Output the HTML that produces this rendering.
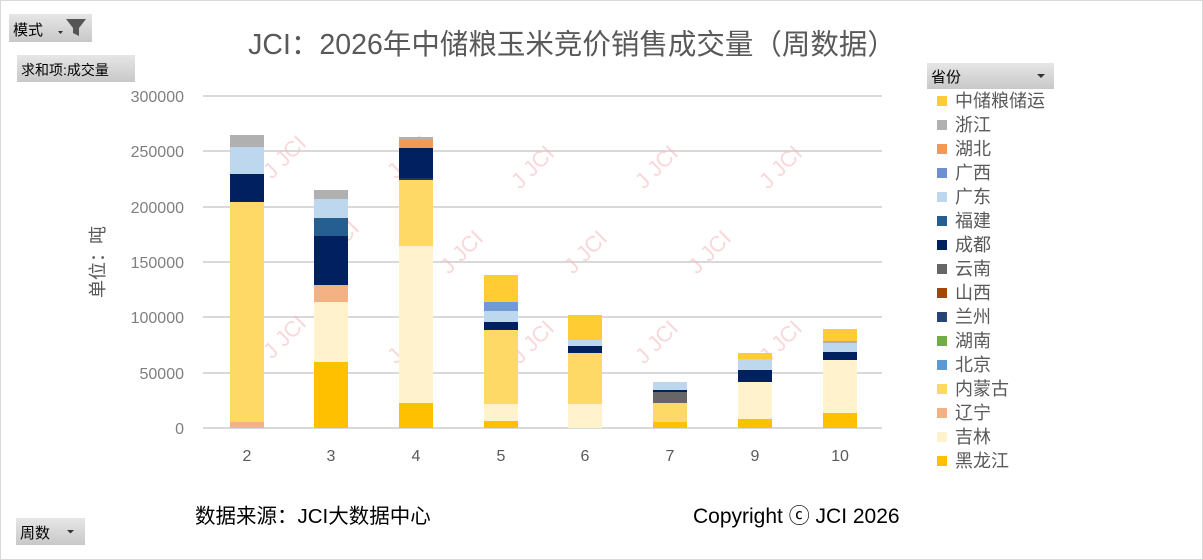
<!DOCTYPE html>
<html><head><meta charset="utf-8"><style>
html,body{margin:0;padding:0;background:#fff}
svg{display:block}
text{font-family:"Liberation Sans","Noto Sans CJK SC",sans-serif}
</style></head><body>
<svg width="1203" height="560" viewBox="0 0 1203 560" xmlns="http://www.w3.org/2000/svg">
<rect x="0.5" y="0.5" width="1202" height="559" fill="#fff" stroke="#d9d9d9"/>
<defs><linearGradient id="g" x1="0" y1="0" x2="0" y2="1"><stop offset="0" stop-color="#e6e6e6"/><stop offset="1" stop-color="#c8c8c8"/></linearGradient></defs>
<rect x="9" y="14" width="83" height="28" fill="url(#g)"/>
<text x="13" y="35" font-size="15" fill="#000">模式</text>
<path d="M58 31 h5 l-2.5 3z" fill="#333"/>
<path d="M66 19 h20 l-7 9 v8 l-6 -3 v-5z" fill="#555"/>
<rect x="17" y="55" width="118" height="27" fill="url(#g)"/>
<text x="21" y="75" font-size="14" fill="#000">求和项:成交量</text>
<rect x="927" y="63" width="127" height="26" fill="url(#g)"/>
<text x="931" y="82" font-size="15" fill="#000">省份</text>
<path d="M1037 74 h8 l-4 4z" fill="#333"/>
<rect x="16" y="518" width="69" height="27" fill="url(#g)"/>
<text x="20" y="538" font-size="15" fill="#000">周数</text>
<path d="M67 530 h7 l-3.5 3.5z" fill="#333"/>
<text x="572" y="54" font-size="28.5" fill="#595959" text-anchor="middle">JCI：2026年中储粮玉米竞价销售成交量（周数据）</text>
<g stroke="#d9d9d9" stroke-width="2">
<line x1="203" y1="96" x2="882" y2="96"/><line x1="203" y1="151" x2="882" y2="151"/>
<line x1="203" y1="207" x2="882" y2="207"/><line x1="203" y1="262" x2="882" y2="262"/>
<line x1="203" y1="317" x2="882" y2="317"/><line x1="203" y1="373" x2="882" y2="373"/>
<line x1="203" y1="428" x2="882" y2="428"/>
</g>
<g font-size="16" fill="#7f7f7f" text-anchor="end">
<text x="184" y="102">300000</text><text x="184" y="157">250000</text><text x="184" y="213">200000</text>
<text x="184" y="268">150000</text><text x="184" y="323">100000</text><text x="184" y="379">50000</text><text x="184" y="434">0</text>
</g>
<text transform="translate(104,262) rotate(-90)" font-size="18" fill="#595959" text-anchor="middle">单位：吨</text>
<g font-size="22" fill="#f4b8bc" opacity="0.55">
<text transform="translate(272,180) rotate(-45)">J JCI</text>
<text transform="translate(396,180) rotate(-45)">J JCI</text>
<text transform="translate(520,190) rotate(-45)">J JCI</text>
<text transform="translate(644,190) rotate(-45)">J JCI</text>
<text transform="translate(768,190) rotate(-45)">J JCI</text>
<text transform="translate(325,265) rotate(-45)">J JCI</text>
<text transform="translate(449,275) rotate(-45)">J JCI</text>
<text transform="translate(573,275) rotate(-45)">J JCI</text>
<text transform="translate(697,275) rotate(-45)">J JCI</text>
<text transform="translate(272,360) rotate(-45)">J JCI</text>
<text transform="translate(396,365) rotate(-45)">J JCI</text>
<text transform="translate(520,365) rotate(-45)">J JCI</text>
<text transform="translate(644,365) rotate(-45)">J JCI</text>
<text transform="translate(768,365) rotate(-45)">J JCI</text>
</g>
<g>
<rect x="230" y="422" width="34" height="6" fill="#f4b183"/>
<rect x="230" y="202" width="34" height="220" fill="#ffd966"/>
<rect x="230" y="174" width="34" height="28" fill="#002060"/>
<rect x="230" y="147" width="34" height="27" fill="#bdd7ee"/>
<rect x="230" y="135" width="34" height="12" fill="#b0b0b0"/>
<rect x="314" y="362" width="34" height="66" fill="#ffc000"/>
<rect x="314" y="302" width="34" height="60" fill="#fff2cc"/>
<rect x="314" y="285" width="34" height="17" fill="#f4b183"/>
<rect x="314" y="236" width="34" height="49" fill="#002060"/>
<rect x="314" y="218" width="34" height="18" fill="#255e91"/>
<rect x="314" y="199" width="34" height="19" fill="#bdd7ee"/>
<rect x="314" y="190" width="34" height="9" fill="#b0b0b0"/>
<rect x="399" y="403" width="34" height="25" fill="#ffc000"/>
<rect x="399" y="246" width="34" height="157" fill="#fff2cc"/>
<rect x="399" y="180" width="34" height="66" fill="#ffd966"/>
<rect x="399" y="178" width="34" height="2" fill="#203864"/>
<rect x="399" y="148" width="34" height="30" fill="#002060"/>
<rect x="399" y="140" width="34" height="8" fill="#f09a5a"/>
<rect x="399" y="137" width="34" height="3" fill="#b0b0b0"/>
<rect x="484" y="421" width="34" height="7" fill="#ffc000"/>
<rect x="484" y="404" width="34" height="17" fill="#fff2cc"/>
<rect x="484" y="330" width="34" height="74" fill="#ffd966"/>
<rect x="484" y="322" width="34" height="8" fill="#002060"/>
<rect x="484" y="311" width="34" height="11" fill="#bdd7ee"/>
<rect x="484" y="302" width="34" height="9" fill="#6f9ad6"/>
<rect x="484" y="275" width="34" height="27" fill="#ffcd33"/>
<rect x="568" y="404" width="34" height="24" fill="#fff2cc"/>
<rect x="568" y="353" width="34" height="51" fill="#ffd966"/>
<rect x="568" y="346" width="34" height="7" fill="#002060"/>
<rect x="568" y="340" width="34" height="6" fill="#bdd7ee"/>
<rect x="568" y="315" width="34" height="25" fill="#ffcd33"/>
<rect x="653" y="422" width="34" height="6" fill="#ffc000"/>
<rect x="653" y="403" width="34" height="19" fill="#ffd966"/>
<rect x="653" y="392" width="34" height="11" fill="#666666"/>
<rect x="653" y="390" width="34" height="2" fill="#002060"/>
<rect x="653" y="382" width="34" height="8" fill="#bdd7ee"/>
<rect x="738" y="419" width="34" height="9" fill="#ffc000"/>
<rect x="738" y="382" width="34" height="37" fill="#fff2cc"/>
<rect x="738" y="370" width="34" height="12" fill="#002060"/>
<rect x="738" y="359" width="34" height="11" fill="#bdd7ee"/>
<rect x="738" y="353" width="34" height="6" fill="#ffcd33"/>
<rect x="823" y="413" width="34" height="15" fill="#ffc000"/>
<rect x="823" y="360" width="34" height="53" fill="#fff2cc"/>
<rect x="823" y="352" width="34" height="8" fill="#002060"/>
<rect x="823" y="343" width="34" height="9" fill="#bdd7ee"/>
<rect x="823" y="341" width="34" height="2" fill="#b0b0b0"/>
<rect x="823" y="329" width="34" height="12" fill="#ffcd33"/>
</g>
<g font-size="16" fill="#595959" text-anchor="middle">
<text x="247" y="461">2</text><text x="331" y="461">3</text><text x="416" y="461">4</text><text x="501" y="461">5</text>
<text x="585" y="461">6</text><text x="670" y="461">7</text><text x="755" y="461">9</text><text x="840" y="461">10</text>
</g>
<g font-size="18" fill="#595959">
<rect x="937" y="96" width="10" height="10" fill="#ffcd33"/><text x="955" y="107">中储粮储运</text>
<rect x="937" y="120" width="10" height="10" fill="#b0b0b0"/><text x="955" y="131">浙江</text>
<rect x="937" y="144" width="10" height="10" fill="#f09a5a"/><text x="955" y="155">湖北</text>
<rect x="937" y="168" width="10" height="10" fill="#6f8fd0"/><text x="955" y="179">广西</text>
<rect x="937" y="192" width="10" height="10" fill="#bdd7ee"/><text x="955" y="203">广东</text>
<rect x="937" y="216" width="10" height="10" fill="#255e91"/><text x="955" y="227">福建</text>
<rect x="937" y="240" width="10" height="10" fill="#002060"/><text x="955" y="251">成都</text>
<rect x="937" y="264" width="10" height="10" fill="#666666"/><text x="955" y="275">云南</text>
<rect x="937" y="288" width="10" height="10" fill="#9e480e"/><text x="955" y="299">山西</text>
<rect x="937" y="312" width="10" height="10" fill="#264478"/><text x="955" y="323">兰州</text>
<rect x="937" y="336" width="10" height="10" fill="#70ad47"/><text x="955" y="347">湖南</text>
<rect x="937" y="360" width="10" height="10" fill="#5b9bd5"/><text x="955" y="371">北京</text>
<rect x="937" y="384" width="10" height="10" fill="#ffd966"/><text x="955" y="395">内蒙古</text>
<rect x="937" y="408" width="10" height="10" fill="#f4b183"/><text x="955" y="419">辽宁</text>
<rect x="937" y="432" width="10" height="10" fill="#fff2cc"/><text x="955" y="443">吉林</text>
<rect x="937" y="456" width="10" height="10" fill="#ffc000"/><text x="955" y="467">黑龙江</text>
</g>
<text x="195" y="523" font-size="20.5" fill="#000">数据来源：JCI大数据中心</text>
<text x="693" y="523" font-size="21" fill="#000">Copyright ⓒ JCI 2026</text>
</svg>
</body></html>
